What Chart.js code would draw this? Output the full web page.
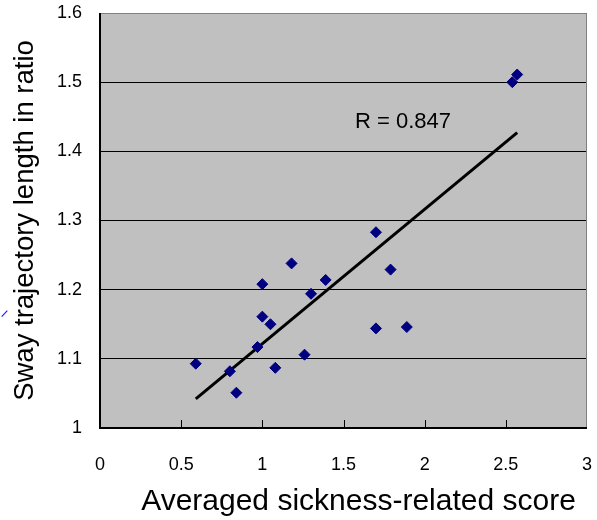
<!DOCTYPE html>
<html>
<head>
<meta charset="utf-8">
<script src="https://cdn.jsdelivr.net/npm/chart.js@4/dist/chart.umd.min.js"></script>
<style>
  html, body { margin: 0; padding: 0; background: #fff; }
  #wrap { width: 597px; height: 520px; }
</style>
</head>
<body>
<div id="wrap"><canvas id="sway" width="597" height="520"></canvas></div>
<script>
// data
const sicknessScore = [0.59, 0.80, 0.84, 0.97, 1.00, 1.00, 1.05, 1.08, 1.18, 1.26, 1.30, 1.39, 1.70, 1.70, 1.79, 1.89, 2.54, 2.57];
const swayRatio     = [1.093, 1.082, 1.051, 1.117, 1.208, 1.161, 1.150, 1.087, 1.238, 1.106, 1.194, 1.214, 1.283, 1.144, 1.229, 1.146, 1.500, 1.511];

// fitted line as drawn (end points)
const fitX = [0.59, 2.57];
const fitY = [1.042, 1.427];

const xTicks = [0, 0.5, 1, 1.5, 2, 2.5, 3];
const yTicks = [1, 1.1, 1.2, 1.3, 1.4, 1.5, 1.6];

const xTitle = 'Averaged sickness-related score';
const yTitle = 'Sway trajectory length in ratio';
const rLabel = 'R = 0.847';
const rLabelAt = { x: 1.571, y: 1.434 };

const FONT = "'Liberation Sans', Arial, sans-serif";

// grey plot area, frame, inner x tick marks, x title and the R label
const plotDecor = {
  id: 'plotDecor',
  beforeDraw(chart) {
    const { ctx, chartArea: a } = chart;
    ctx.save();
    ctx.fillStyle = '#c0c0c0';
    ctx.fillRect(a.left, a.top, a.right - a.left, a.bottom - a.top);
    ctx.restore();
  },
  afterDraw(chart) {
    const { ctx, chartArea: a } = chart;
    const xs = chart.scales.x, ys = chart.scales.y;
    ctx.save();
    // grey top/right border
    ctx.strokeStyle = '#808080';
    ctx.lineWidth = 1;
    ctx.beginPath();
    ctx.moveTo(a.left, a.top + 0.5);
    ctx.lineTo(a.right - 0.5, a.top + 0.5);
    ctx.lineTo(a.right - 0.5, a.bottom);
    ctx.stroke();
    // black axes
    ctx.strokeStyle = '#000';
    ctx.lineWidth = 2;
    ctx.beginPath();
    ctx.moveTo(a.left, a.top);
    ctx.lineTo(a.left, a.bottom);
    ctx.lineTo(a.right, a.bottom);
    ctx.stroke();
    // tick marks pointing into the plot
    ctx.lineWidth = 1;
    ctx.beginPath();
    xTicks.slice(1, -1).forEach(v => {
      const px = Math.round(xs.getPixelForValue(v)) + 0.5;
      ctx.moveTo(px, a.bottom);
      ctx.lineTo(px, a.bottom - 8);
    });
    ctx.stroke();
    // R label
    ctx.fillStyle = '#000';
    ctx.font = '22px ' + FONT;
    ctx.textAlign = 'left';
    ctx.textBaseline = 'alphabetic';
    ctx.fillText(rLabel, xs.getPixelForValue(rLabelAt.x), ys.getPixelForValue(rLabelAt.y));
    // x axis title, sitting a little right of centre as in the source
    ctx.font = '30px ' + FONT;
    ctx.textAlign = 'center';
    ctx.fillText(xTitle, (a.left + a.right) / 2 + 15, a.bottom + 82);
    // little blue stroke at the left edge
    ctx.strokeStyle = '#2020ff';
    ctx.lineWidth = 1.2;
    ctx.beginPath();
    ctx.moveTo(1.7, 316.7);
    ctx.lineTo(7.3, 310.7);
    ctx.stroke();
    ctx.restore();
  }
};

const ctx = document.getElementById('sway').getContext('2d');

new Chart(ctx, {
  type: 'scatter',
  data: {
    datasets: [
      {
        label: 'fit',
        type: 'line',
        data: fitX.map((x, i) => ({ x: x, y: fitY[i] })),
        borderColor: '#000',
        borderWidth: 3,
        pointRadius: 0,
        fill: false,
        order: 2
      },
      {
        label: 'subjects',
        data: sicknessScore.map((x, i) => ({ x: x, y: swayRatio[i] })),
        pointStyle: 'rectRot',
        pointRadius: 5.5,
        backgroundColor: '#000080',
        borderColor: '#000080',
        borderWidth: 1,
        order: 1
      }
    ]
  },
  options: {
    responsive: false,
    animation: false,
    layout: { padding: { top: 13, right: 10, left: 0, bottom: 0 } },
    plugins: {
      legend: { display: false },
      tooltip: { enabled: false }
    },
    scales: {
      x: {
        type: 'linear',
        min: 0,
        max: 3,
        afterBuildTicks: s => { s.ticks = xTicks.map(v => ({ value: v })); },
        afterFit: s => { s.height = 92; s.paddingLeft = 0; s.paddingRight = 0; },
        grid: { display: false, drawTicks: false },
        border: { display: false },
        ticks: {
          color: '#000',
          padding: 26,
          maxRotation: 0,
          font: { family: FONT, size: 18 },
          callback: v => String(v)
        },
        title: { display: false }
      },
      y: {
        type: 'linear',
        min: 1,
        max: 1.6,
        afterBuildTicks: s => { s.ticks = yTicks.map(v => ({ value: v })); },
        afterFit: s => { s.width = 100; s.paddingTop = 0; s.paddingBottom = 0; },
        grid: {
          drawTicks: false,
          lineWidth: 1,
          color: c => (c.tick && c.tick.value === 1.6) ? '#808080' : '#000'
        },
        border: { display: false },
        ticks: {
          color: '#000',
          padding: 18,
          font: { family: FONT, size: 18 },
          callback: v => String(v)
        },
        title: {
          display: true,
          text: yTitle,
          color: '#000',
          font: { family: FONT, size: 27.5 },
          padding: { top: 9, bottom: 0 }
        }
      }
    }
  },
  plugins: [plotDecor]
});
</script>
</body>
</html>
